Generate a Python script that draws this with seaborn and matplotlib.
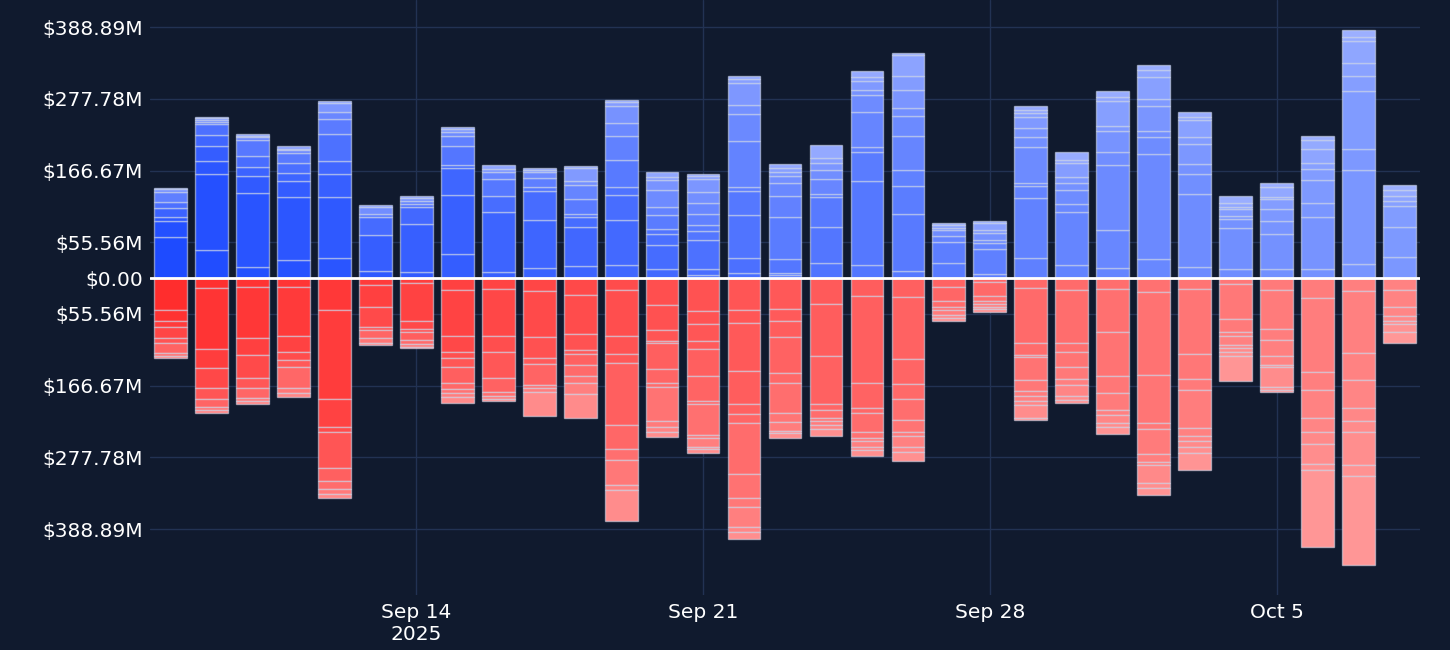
import numpy as np
import pandas as pd
import seaborn as sns
import matplotlib
matplotlib.use("Agg")
import matplotlib.pyplot as plt
import matplotlib.dates as mdates
from matplotlib.ticker import FuncFormatter

# 1. data: cumulative stack levels per day, in $M
DAYS = pd.date_range("2025-09-08", periods=31, freq="D")

inflow_levels = [
    [63, 89, 94, 109, 118, 134, 138, 140],
    [43, 162, 182, 205, 222, 239, 242, 245, 248, 250],
    [17, 132, 158, 172, 189, 214, 218, 221, 224],
    [28, 125, 150, 163, 178, 194, 198, 200, 205],
    [31, 126, 162, 182, 224, 246, 257, 271, 274],
    [11, 67, 95, 99, 111, 114],
    [10, 84, 110, 115, 120, 124, 127],
    [38, 129, 171, 176, 205, 220, 226, 231, 234],
    [10, 102, 128, 153, 165, 169, 176],
    [16, 90, 135, 142, 155, 164, 168, 171],
    [19, 79, 94, 99, 123, 144, 151, 170, 174],
    [21, 90, 129, 141, 183, 220, 240, 266, 273, 276],
    [14, 51, 69, 76, 98, 110, 136, 152, 156, 164],
    [5, 14, 59, 73, 82, 99, 116, 134, 153, 159, 161],
    [8, 31, 98, 135, 141, 213, 255, 269, 302, 308, 313],
    [5, 8, 30, 94, 127, 147, 159, 165, 170, 177],
    [23, 80, 125, 131, 153, 167, 178, 186, 206],
    [21, 151, 195, 203, 258, 284, 292, 306, 312, 321],
    [11, 100, 143, 167, 220, 252, 264, 291, 313, 346, 349],
    [23, 56, 66, 74, 78, 83, 86],
    [6, 45, 55, 59, 70, 74, 85, 89],
    [31, 124, 143, 147, 203, 218, 233, 250, 256, 261, 266],
    [21, 103, 115, 137, 148, 156, 178, 183, 195],
    [16, 75, 176, 195, 228, 235, 275, 281, 290],
    [29, 192, 218, 228, 267, 278, 311, 323, 331],
    [18, 130, 162, 177, 208, 219, 245, 250, 257],
    [14, 77, 92, 97, 107, 111, 116, 128],
    [14, 68, 88, 107, 123, 126, 142, 148],
    [14, 94, 116, 152, 169, 178, 200, 214, 221],
    [22, 167, 200, 290, 314, 333, 367, 373, 385],
    [33, 80, 112, 120, 127, 137, 145],
]

outflow_levels = [
    [49, 67, 75, 92, 100, 116, 120, 123],
    [15, 110, 139, 171, 187, 199, 204, 209],
    [14, 93, 119, 154, 170, 186, 191, 195],
    [14, 89, 114, 127, 137, 171, 178, 184],
    [49, 188, 230, 239, 294, 315, 327, 334, 341],
    [11, 45, 75, 81, 93, 100, 104],
    [7, 66, 79, 83, 96, 102, 106, 109],
    [19, 90, 114, 124, 138, 162, 172, 178, 184, 193],
    [17, 89, 114, 154, 176, 182, 187, 191],
    [20, 91, 123, 133, 165, 171, 177, 214],
    [26, 86, 111, 118, 134, 152, 163, 180, 217],
    [18, 90, 117, 132, 228, 264, 282, 321, 329, 377],
    [41, 80, 97, 100, 141, 162, 168, 222, 231, 239, 246],
    [51, 71, 97, 110, 152, 190, 195, 243, 248, 261, 264, 271],
    [50, 69, 144, 195, 211, 224, 304, 341, 355, 386, 394, 404],
    [48, 66, 91, 147, 163, 209, 223, 237, 240, 248],
    [40, 120, 195, 205, 216, 222, 228, 233, 245],
    [27, 163, 201, 209, 239, 248, 253, 262, 266, 275],
    [29, 125, 164, 188, 220, 239, 245, 262, 270, 283],
    [13, 36, 44, 49, 57, 61, 67],
    [6, 27, 36, 40, 45, 48, 52],
    [15, 100, 119, 122, 158, 175, 182, 191, 197, 216, 220],
    [19, 101, 114, 138, 156, 166, 182, 189, 194],
    [17, 83, 152, 178, 204, 212, 225, 231, 242],
    [21, 150, 225, 234, 272, 285, 289, 318, 325, 336],
    [17, 118, 157, 173, 232, 244, 253, 262, 271, 297],
    [9, 63, 83, 90, 103, 108, 114, 120, 160],
    [19, 79, 96, 121, 134, 138, 169, 173, 177],
    [30, 145, 173, 217, 239, 257, 288, 297, 416],
    [20, 116, 158, 201, 222, 239, 290, 306, 444],
    [18, 44, 59, 66, 71, 83, 100],
]

Y_TICKS = [-388.89, -277.78, -166.67, -55.56, 0, 55.56, 166.67, 277.78, 388.89]
X_TICKS = ["2025-09-14", "2025-09-21", "2025-09-28", "2025-10-05"]
X_TICK_LABELS = ["Sep 14\n2025", "Sep 21", "Sep 28", "Oct 5"]

# 2. style
BG = "#101a2e"
GRID = "#223253"
sns.set_theme(style="darkgrid", rc={
    "figure.facecolor": BG,
    "axes.facecolor": BG,
    "grid.color": GRID,
    "grid.linewidth": 1.0,
    "text.color": "white",
    "xtick.color": "white",
    "ytick.color": "white",
})
plt.rcParams["font.family"] = ["DejaVu Sans"]

blue_base = sns.blend_palette(["#1e4bff", "#7b97ff"], n_colors=len(DAYS))
red_base = sns.blend_palette(["#ff2d2d", "#ff8282"], n_colors=len(DAYS))
BLUE_LIGHT = (165 / 255, 182 / 255, 1.0)
RED_LIGHT = (1.0, 156 / 255, 156 / 255)


def shades(base, light, n):
    # outer segments drift towards a light tint
    out = []
    for k in range(n):
        f = 0.0 if n == 1 else 0.8 * (k / (n - 1)) ** 1.5
        out.append(tuple(b + (l - b) * f for b, l in zip(base[:3], light)))
    return out


EDGE = (0.86, 0.89, 0.96, 0.55)

fig = plt.figure(figsize=(14.5, 6.5), dpi=100)
ax = fig.add_axes([150 / 1450, 55 / 650, 1270 / 1450, 595 / 650])

xs = mdates.date2num(DAYS.to_pydatetime())
for i, x in enumerate(xs):
    lv = np.array(inflow_levels[i], dtype=float)
    h = np.diff(np.concatenate([[0], lv]))
    ax.bar(np.full(len(h), x), h, bottom=lv - h, width=0.8,
           color=shades(blue_base[i], BLUE_LIGHT, len(h)),
           edgecolor=EDGE, linewidth=1.0, zorder=2)

    lv = np.array(outflow_levels[i], dtype=float)
    h = np.diff(np.concatenate([[0], lv]))
    ax.bar(np.full(len(h), x), -h, bottom=-(lv - h), width=0.8,
           color=shades(red_base[i], RED_LIGHT, len(h)),
           edgecolor=EDGE, linewidth=1.0, zorder=2)

ax.axhline(0, color="white", linewidth=2, zorder=3)


def money(v, pos):
    if abs(v) < 1e-9:
        return "$0.00"
    return f"${abs(v):.2f}M"


ax.set_xlim(xs[0] - 0.5, xs[-1] + 0.5)
ax.set_ylim(-491, 431)
ax.set_yticks(Y_TICKS)
ax.yaxis.set_major_formatter(FuncFormatter(money))
ax.set_xticks(mdates.date2num(pd.to_datetime(X_TICKS).to_pydatetime()))
ax.set_xticklabels(X_TICK_LABELS)
ax.tick_params(axis="both", length=0, labelsize=14.5)
ax.tick_params(axis="y", pad=5)
ax.tick_params(axis="x", pad=6)
for s in ax.spines.values():
    s.set_visible(False)
ax.grid(True, zorder=0)
ax.set_axisbelow(True)

fig.savefig("out.png", dpi=100, facecolor=BG)
